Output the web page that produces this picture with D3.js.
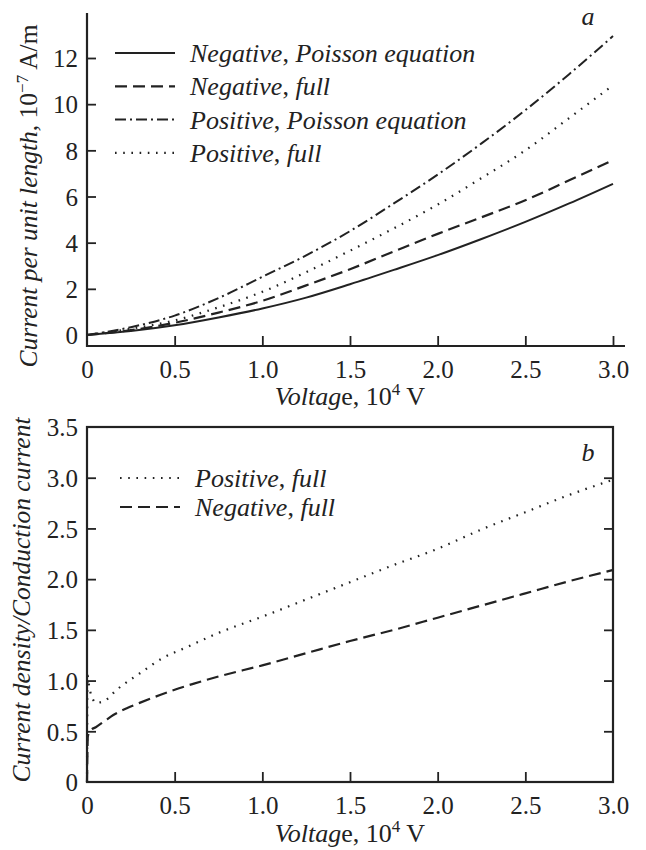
<!DOCTYPE html>
<html><head><meta charset="utf-8">
<script src="https://cdn.jsdelivr.net/npm/d3@7"></script>
<style>
body{margin:0;background:#fff;}
svg text{font-family:"Liberation Serif","Times New Roman",serif;fill:#222;}
</style></head>
<body><svg id="c" width="646" height="850"></svg>
<script>
// ---- Panel a data (Voltage in 10^4 V, current in 10^-7 A/m)
const voltageA = [0, 0.25, 0.5, 0.75, 1.0, 1.25, 1.5, 1.75, 2.0, 2.25, 2.5, 2.75, 3.0];
const negPoisson = [0, 0.17, 0.42, 0.76, 1.15, 1.62, 2.2, 2.82, 3.46, 4.16, 4.9, 5.7, 6.55];
const negFull    = [0, 0.21, 0.53, 0.97, 1.48, 2.15, 2.85, 3.62, 4.38, 5.1, 5.84, 6.7, 7.58];
const posPoisson = [0, 0.34, 0.84, 1.6, 2.52, 3.45, 4.5, 5.7, 6.95, 8.3, 9.74, 11.3, 12.95];
const posFull    = [0, 0.27, 0.63, 1.2, 1.87, 2.72, 3.65, 4.62, 5.65, 6.8, 8.0, 9.4, 10.82];
const yTicksA = [0, 2, 4, 6, 8, 10, 12];
const xTicks = [0, 0.5, 1.0, 1.5, 2.0, 2.5, 3.0];
const legendA = ["Negative|Poisson equation", "Negative|full", "Positive|Poisson equation", "Positive|full"];

// ---- Panel b data (ratio current density / conduction current)
const voltagePosB = [0, 0.003, 0.01, 0.02, 0.035, 0.05, 0.1, 0.17, 0.3, 0.43, 0.57, 0.75, 1.0, 1.25, 1.5, 1.75, 2.0, 2.25, 2.5, 2.75, 3.0];
const ratioPosFull = [0, 1.05, 0.97, 0.88, 0.81, 0.78, 0.80, 0.91, 1.07, 1.22, 1.33, 1.47, 1.63, 1.80, 1.97, 2.14, 2.30, 2.49, 2.66, 2.83, 2.98];
const voltageNegB = [0, 0.005, 0.02, 0.05, 0.1, 0.15, 0.23, 0.3, 0.42, 0.5, 0.61, 0.75, 1.0, 1.25, 1.5, 1.75, 2.0, 2.25, 2.5, 2.75, 3.0];
const ratioNegFull = [0, 0.45, 0.51, 0.54, 0.60, 0.66, 0.73, 0.78, 0.86, 0.91, 0.97, 1.04, 1.15, 1.27, 1.39, 1.50, 1.62, 1.74, 1.86, 1.98, 2.09];
const yTicksB = [0, 0.5, 1.0, 1.5, 2.0, 2.5, 3.0, 3.5];
const legendB = ["Positive|full", "Negative|full"];

const svg = d3.select("#c");
const ink = "#222";
const TICK_FS = 25, TEXT_FS = 26;
const styles = {
  solid: {dash: null, w: 2},
  dashed: {dash: "12,6", w: 2.2},
  dashdot: {dash: "11,4,2,4", w: 2},
  dotted: {dash: "1.6,6.6", w: 2.2}
};

function fmtTick(d){ return d === 0 ? "0" : d3.format(".1f")(d); }

function legendRow(g, x, y, styleKey, label){
  const s = styles[styleKey];
  g.append("line").attr("x1", x).attr("x2", x + 60).attr("y1", y).attr("y2", y)
    .attr("stroke", ink).attr("stroke-width", s.w)
    .attr("stroke-dasharray", s.dash);
  const [a, b] = label.split("|");
  const t = g.append("text").attr("x", x + 75).attr("y", y + 9).attr("font-size", TEXT_FS);
  t.append("tspan").attr("font-style", "italic").text(a);
  t.append("tspan").text(", ");
  t.append("tspan").attr("font-style", "italic").text(b);
}

function xLabel(y){
  const t = svg.append("text").attr("x", 350).attr("y", y).attr("text-anchor", "middle").attr("font-size", TEXT_FS);
  t.append("tspan").attr("font-style", "italic").text("Voltag");
  t.append("tspan").text("e, 10");
  t.append("tspan").attr("font-size", 17).attr("dy", -10).text("4");
  t.append("tspan").attr("dy", 10).text(" V");
}

function styleTicks(sel){
  sel.attr("font-family", null).attr("font-size", null);
  sel.selectAll(".tick line").attr("stroke", ink).attr("stroke-width", 1.8);
  sel.selectAll(".tick text").attr("font-size", TICK_FS).attr("fill", ink);
}

// ================= Panel a =================
{
  const x = d3.scaleLinear().domain([0, 3]).range([87, 613]);
  const y = d3.scaleLinear().domain([0, 12]).range([335, 58]);
  const g = svg.append("g");
  g.append("line").attr("x1", 87).attr("x2", 87).attr("y1", 13).attr("y2", 347).attr("stroke", ink).attr("stroke-width", 2.2);
  g.append("line").attr("x1", 86).attr("x2", 625).attr("y1", 346).attr("y2", 346).attr("stroke", ink).attr("stroke-width", 2.2);
  const ya = d3.axisLeft(y).tickValues(yTicksA).tickSize(-9).tickFormat(d3.format("d"));
  const yg = g.append("g").attr("transform", "translate(87,0)").call(ya);
  yg.select(".domain").remove();
  styleTicks(yg);
  yg.selectAll(".tick text").attr("x", -9).attr("dy", "0.35em");
  yg.selectAll(".tick").filter(d => d === 0).select("line").remove();
  const xa = d3.axisBottom(x).tickValues(xTicks).tickSize(-10).tickFormat(fmtTick);
  const xg = g.append("g").attr("transform", "translate(0,346)").call(xa);
  xg.select(".domain").remove();
  styleTicks(xg);
  xg.selectAll(".tick text").attr("y", 14);
  xg.selectAll(".tick").filter(d => d === 0).select("line").remove();

  const line = d3.line().x((d, i) => x(voltageA[i])).y(d => y(d)).curve(d3.curveMonotoneX);
  const series = [[negPoisson, "solid"], [negFull, "dashed"], [posPoisson, "dashdot"], [posFull, "dotted"]];
  series.forEach(([vals, sk]) => {
    g.append("path").attr("d", line(vals)).attr("fill", "none").attr("stroke", ink)
      .attr("stroke-width", styles[sk].w).attr("stroke-dasharray", styles[sk].dash);
  });
  legendA.forEach((lab, i) => legendRow(g, 115, 53 + i * 33.3, series[i][1], lab));
  g.append("text").attr("x", 588).attr("y", 25).attr("font-size", TEXT_FS).attr("font-style", "italic").attr("text-anchor", "middle").text("a");
  const yl = svg.append("text").attr("transform", "translate(37,196) rotate(-90)").attr("text-anchor", "middle").attr("font-size", 25.5);
  yl.append("tspan").attr("font-style", "italic").text("Current per unit length, ");
  yl.append("tspan").text(" 10");
  yl.append("tspan").attr("font-size", 17).attr("dy", -9).text("\u22127");
  yl.append("tspan").attr("dy", 9).text(" A/m");
  xLabel(405);
}

// ================= Panel b =================
{
  const x = d3.scaleLinear().domain([0, 3]).range([87, 613]);
  const y = d3.scaleLinear().domain([0, 3.5]).range([782, 427]);
  const g = svg.append("g");
  g.append("rect").attr("x", 87).attr("y", 427).attr("width", 526).attr("height", 355)
    .attr("fill", "none").attr("stroke", ink).attr("stroke-width", 2.2);
  const ya = d3.axisLeft(y).tickValues(yTicksB).tickSize(-9).tickFormat(fmtTick);
  const yg = g.append("g").attr("transform", "translate(87,0)").call(ya);
  yg.select(".domain").remove();
  styleTicks(yg);
  yg.selectAll(".tick text").attr("x", -9).attr("dy", "0.35em");
  yg.selectAll(".tick").filter(d => d === 0 || d === 3.5).select("line").remove();
  const yr = d3.axisRight(y).tickValues(yTicksB.filter(d => d > 0 && d < 3.5)).tickSize(-9).tickFormat("");
  const yrg = g.append("g").attr("transform", "translate(613,0)").call(yr);
  yrg.select(".domain").remove();
  styleTicks(yrg);

  const xa = d3.axisBottom(x).tickValues(xTicks).tickSize(-10).tickFormat(fmtTick);
  const xg = g.append("g").attr("transform", "translate(0,782)").call(xa);
  xg.select(".domain").remove();
  styleTicks(xg);
  xg.selectAll(".tick text").attr("y", 14);
  xg.selectAll(".tick").filter(d => d === 0 || d === 3).select("line").remove();

  const linePos = d3.line().x((d, i) => x(voltagePosB[i])).y(d => y(d)).curve(d3.curveMonotoneX);
  const lineNeg = d3.line().x((d, i) => x(voltageNegB[i])).y(d => y(d)).curve(d3.curveMonotoneX);
  g.append("path").attr("d", linePos(ratioPosFull)).attr("fill", "none").attr("stroke", ink)
    .attr("stroke-width", styles.dotted.w).attr("stroke-dasharray", styles.dotted.dash);
  g.append("path").attr("d", lineNeg(ratioNegFull)).attr("fill", "none").attr("stroke", ink)
    .attr("stroke-width", styles.dashed.w).attr("stroke-dasharray", styles.dashed.dash);
  legendRow(g, 120, 478, "dotted", legendB[0]);
  legendRow(g, 120, 507, "dashed", legendB[1]);
  g.append("text").attr("x", 588).attr("y", 461).attr("font-size", TEXT_FS).attr("font-style", "italic").attr("text-anchor", "middle").text("b");
  svg.append("text").attr("transform", "translate(30,600) rotate(-90)").attr("text-anchor", "middle")
    .attr("font-size", 25.5).attr("font-style", "italic").text("Current density/Conduction current");
  xLabel(842);
}
</script></body></html>
